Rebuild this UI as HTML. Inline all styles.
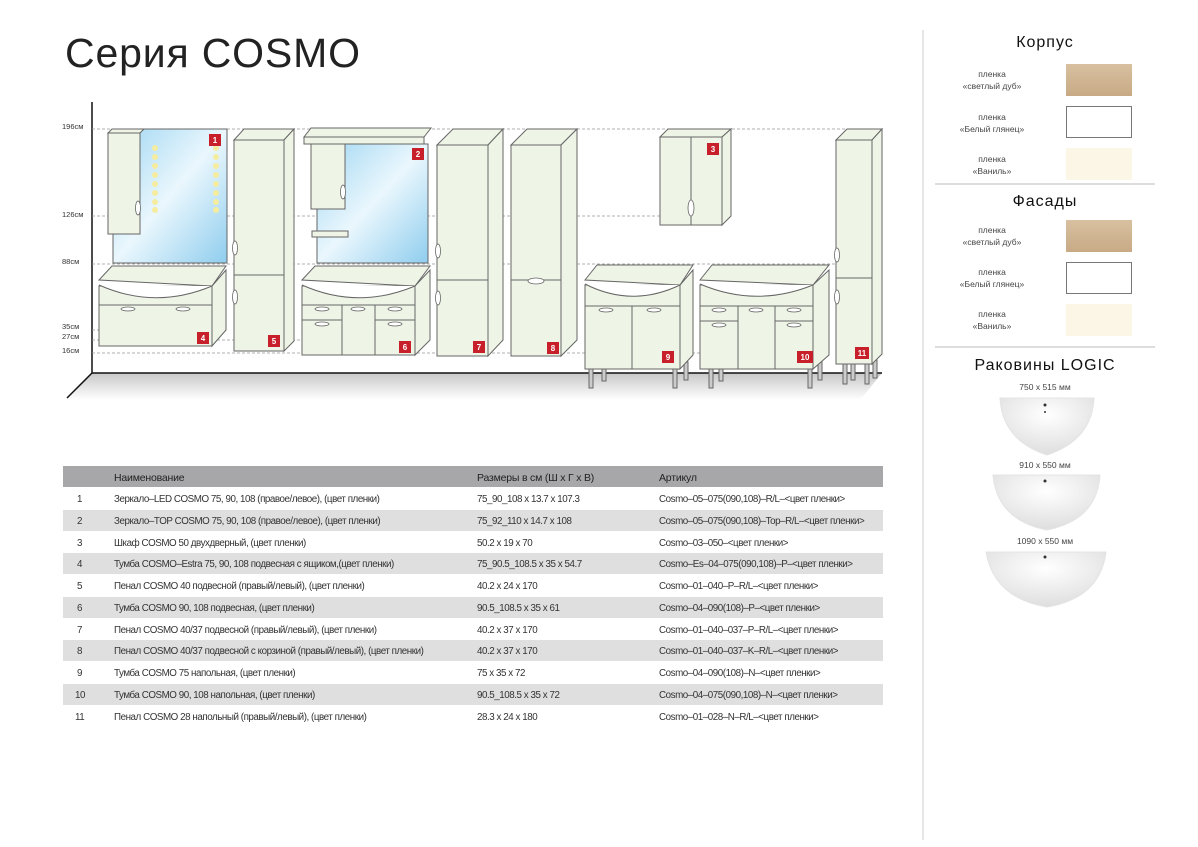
<!DOCTYPE html>
<html><head><meta charset="utf-8"><style>
body{margin:0;background:#fff;}
svg{display:block;font-family:"Liberation Sans","Noto Sans CJK SC",sans-serif;}
</style></head><body>
<svg width="1198" height="847" viewBox="0 0 1198 847" xmlns="http://www.w3.org/2000/svg">
<defs>
<linearGradient id="mir" x1="0" y1="0" x2="1" y2="1"><stop offset="0" stop-color="#9fd6f2"/><stop offset="0.5" stop-color="#eaf7fd"/><stop offset="1" stop-color="#8fcdee"/></linearGradient>
<linearGradient id="floor" x1="0" y1="0" x2="0" y2="1"><stop offset="0" stop-color="#c8c8c8"/><stop offset="1" stop-color="#fff"/></linearGradient>
<linearGradient id="oak" x1="0" y1="0" x2="0" y2="1"><stop offset="0" stop-color="#d8c0a0"/><stop offset="1" stop-color="#c8aa85"/></linearGradient>
<radialGradient id="sink" cx="0.5" cy="0.3" r="0.7"><stop offset="0" stop-color="#fff"/><stop offset="1" stop-color="#dedede"/></radialGradient>
</defs>
<rect width="1198" height="847" fill="#fff"/>
<line x1="923" y1="30" x2="923" y2="840" stroke="#ccc"/>
<text x="65" y="67" font-size="41" fill="#222" textLength="295">Серия COSMO</text>

<polygon points="92,373 882,373 860,400 67,400" fill="url(#floor)"/>
<line x1="92" y1="102" x2="92" y2="373" stroke="#111" stroke-width="1.5"/>
<line x1="92" y1="373" x2="882" y2="373" stroke="#111" stroke-width="1.5"/>
<line x1="92" y1="373" x2="67" y2="398" stroke="#111" stroke-width="1.5"/>
<g stroke="#999" stroke-dasharray="3,2" stroke-width="0.8">
<line x1="92" y1="129" x2="882" y2="129"/><line x1="92" y1="216" x2="660" y2="216"/>
<line x1="92" y1="264" x2="836" y2="264"/><line x1="92" y1="330" x2="110" y2="330"/>
<line x1="92" y1="340" x2="302" y2="340"/><line x1="92" y1="353" x2="700" y2="353"/>
</g>
<g font-size="7.5" fill="#333">
<text x="62" y="129">196см</text><text x="62" y="217">126см</text><text x="62" y="264">88см</text>
<text x="62" y="329">35см</text><text x="62" y="339">27см</text><text x="62" y="353">16см</text>
</g>

<g stroke="#666" stroke-width="1" fill="#eef5e6">
<rect x="113" y="129" width="114" height="134" fill="url(#mir)"/>
<rect x="108" y="133" width="32" height="101"/><polygon points="108,133 112,129 144,129 140,133"/>
<polygon points="99,280 112,266 226,266 212,286"/>
<rect x="99" y="286" width="113" height="60"/><polygon points="212,286 226,270 226,330 212,346"/>
<path d="M99,285 Q155,310 212,286" fill="#fff"/>
<line x1="99" y1="305" x2="212" y2="305"/>
<rect x="234" y="140" width="50" height="211"/><polygon points="234,140 244,129 294,129 284,140"/><polygon points="284,140 294,129 294,341 284,351"/>
<line x1="234" y1="275" x2="284" y2="275"/>
<rect x="317" y="144" width="111" height="119" fill="url(#mir)"/>
<polygon points="304,137 311,128 431,128 424,137"/><rect x="304" y="137" width="120" height="7"/>
<rect x="311" y="144" width="34" height="65"/><rect x="312" y="231" width="36" height="6"/>
<polygon points="302,280 315,266 430,266 415,286"/>
<rect x="302" y="286" width="113" height="69"/><polygon points="415,286 430,270 430,340 415,355"/>
<path d="M302,285 Q358,310 415,286" fill="#fff"/>
<line x1="302" y1="305" x2="415" y2="305"/><line x1="342" y1="305" x2="342" y2="355"/><line x1="375" y1="305" x2="375" y2="355"/>
<line x1="302" y1="320" x2="342" y2="320"/><line x1="375" y1="320" x2="415" y2="320"/>
<rect x="437" y="145" width="51" height="211"/><polygon points="437,145 453,129 503,129 488,145"/><polygon points="488,145 503,129 503,340 488,356"/>
<line x1="437" y1="280" x2="488" y2="280"/>
<rect x="511" y="145" width="50" height="211"/><polygon points="511,145 527,129 577,129 561,145"/><polygon points="561,145 577,129 577,340 561,356"/>
<line x1="511" y1="280" x2="561" y2="280"/>
<rect x="660" y="137" width="62" height="88"/><polygon points="660,137 668,129 731,129 722,137"/><polygon points="722,137 731,129 731,216 722,225"/>
<line x1="691" y1="137" x2="691" y2="225"/>
<rect x="589" y="369" width="4" height="19" fill="#ccc"/><rect x="673" y="369" width="4" height="19" fill="#ccc"/><rect x="602" y="369" width="4" height="12" fill="#ccc"/><rect x="684" y="362" width="4" height="18" fill="#ccc"/>
<polygon points="585,280 597,265 693,265 680,285"/>
<rect x="585" y="285" width="95" height="84"/><polygon points="680,285 693,270 693,355 680,369"/>
<path d="M585,284 Q632,308 680,285" fill="#fff"/>
<line x1="585" y1="306" x2="680" y2="306"/><line x1="632" y1="306" x2="632" y2="369"/>
<rect x="709" y="369" width="4" height="19" fill="#ccc"/><rect x="808" y="369" width="4" height="19" fill="#ccc"/><rect x="719" y="369" width="4" height="12" fill="#ccc"/><rect x="818" y="362" width="4" height="18" fill="#ccc"/>
<polygon points="700,280 712,265 829,265 813,285"/>
<rect x="700" y="285" width="113" height="84"/><polygon points="813,285 829,270 829,355 813,369"/>
<path d="M700,284 Q756,308 813,285" fill="#fff"/>
<line x1="700" y1="306" x2="813" y2="306"/><line x1="738" y1="306" x2="738" y2="369"/><line x1="775" y1="306" x2="775" y2="369"/>
<line x1="700" y1="321" x2="738" y2="321"/><line x1="775" y1="321" x2="813" y2="321"/>
<rect x="843" y="364" width="4" height="20" fill="#ccc"/><rect x="865" y="364" width="4" height="20" fill="#ccc"/><rect x="851" y="364" width="4" height="16" fill="#ccc"/><rect x="873" y="360" width="4" height="18" fill="#ccc"/>
<rect x="836" y="140" width="36" height="224"/><polygon points="836,140 847,129 882,129 872,140"/><polygon points="872,140 882,129 882,354 872,364"/>
<line x1="836" y1="278" x2="872" y2="278"/>
</g>
<!-- handles -->
<g fill="#fff" stroke="#666" stroke-width="0.8">
<ellipse cx="138" cy="208" rx="2.5" ry="7"/><ellipse cx="235" cy="248" rx="2.5" ry="7"/><ellipse cx="235" cy="297" rx="2.5" ry="7"/>
<ellipse cx="343" cy="192" rx="2.5" ry="7"/><ellipse cx="438" cy="251" rx="2.5" ry="7"/><ellipse cx="438" cy="298" rx="2.5" ry="7"/>
<ellipse cx="536" cy="281" rx="8" ry="3"/><ellipse cx="691" cy="208" rx="3" ry="8"/>
<ellipse cx="837" cy="255" rx="2.5" ry="7"/><ellipse cx="837" cy="297" rx="2.5" ry="7"/>
<ellipse cx="128" cy="309" rx="7" ry="2"/><ellipse cx="183" cy="309" rx="7" ry="2"/>
<ellipse cx="322" cy="309" rx="7" ry="2"/><ellipse cx="358" cy="309" rx="7" ry="2"/><ellipse cx="395" cy="309" rx="7" ry="2"/>
<ellipse cx="322" cy="324" rx="7" ry="2"/><ellipse cx="395" cy="324" rx="7" ry="2"/>
<ellipse cx="606" cy="310" rx="7" ry="2"/><ellipse cx="654" cy="310" rx="7" ry="2"/>
<ellipse cx="719" cy="310" rx="7" ry="2"/><ellipse cx="756" cy="310" rx="7" ry="2"/><ellipse cx="794" cy="310" rx="7" ry="2"/>
<ellipse cx="719" cy="325" rx="7" ry="2"/><ellipse cx="794" cy="325" rx="7" ry="2"/>
</g>
<g fill="#f5eca0">
<circle cx="155" cy="148" r="3"/><circle cx="155" cy="157" r="3"/><circle cx="155" cy="166" r="3"/><circle cx="155" cy="175" r="3"/><circle cx="155" cy="184" r="3"/><circle cx="155" cy="193" r="3"/><circle cx="155" cy="202" r="3"/><circle cx="155" cy="210" r="3"/>
<circle cx="216" cy="148" r="3"/><circle cx="216" cy="157" r="3"/><circle cx="216" cy="166" r="3"/><circle cx="216" cy="175" r="3"/><circle cx="216" cy="184" r="3"/><circle cx="216" cy="193" r="3"/><circle cx="216" cy="202" r="3"/><circle cx="216" cy="210" r="3"/>
</g>
<g fill="#c8202a">
<rect x="209" y="134" width="12" height="12"/><rect x="412" y="148" width="12" height="12"/><rect x="707" y="143" width="12" height="12"/>
<rect x="197" y="332" width="12" height="12"/><rect x="268" y="335" width="12" height="12"/><rect x="399" y="341" width="12" height="12"/>
<rect x="473" y="341" width="12" height="12"/><rect x="547" y="342" width="12" height="12"/><rect x="662" y="351" width="12" height="12"/>
<rect x="797" y="351" width="16" height="12"/><rect x="855" y="347" width="14" height="12"/>
</g>
<g fill="#fff" font-size="8" font-weight="bold" text-anchor="middle">
<text x="215" y="143">1</text><text x="418" y="157">2</text><text x="713" y="152">3</text>
<text x="203" y="341">4</text><text x="274" y="344">5</text><text x="405" y="350">6</text>
<text x="479" y="350">7</text><text x="553" y="351">8</text><text x="668" y="360">9</text>
<text x="805" y="360">10</text><text x="862" y="356">11</text>
</g>

<rect x="63" y="466" width="820" height="21" fill="#a7a7a9"/>
<g fill="#dfdfe0">
<rect x="63" y="510" width="820" height="21"/><rect x="63" y="553" width="820" height="21"/>
<rect x="63" y="597" width="820" height="21"/><rect x="63" y="640" width="820" height="21"/><rect x="63" y="684" width="820" height="21"/>
</g>
<g font-size="10.5" fill="#222" letter-spacing="-0.2">
<text x="114" y="481">Наименование</text><text x="477" y="481">Размеры в см (Ш х Г х В)</text><text x="659" y="481">Артикул</text>
</g>
<g font-size="9.8" fill="#333" letter-spacing="-0.45">
<text x="77" y="502">1</text><text x="77" y="524">2</text><text x="77" y="546">3</text><text x="77" y="567">4</text><text x="77" y="589">5</text><text x="77" y="611">6</text><text x="77" y="633">7</text><text x="77" y="654">8</text><text x="77" y="676">9</text><text x="75" y="698">10</text><text x="75" y="720">11</text>
<text x="114" y="502">Зеркало–LED COSMO 75, 90, 108 (правое/левое), (цвет пленки)</text>
<text x="114" y="524">Зеркало–TOP COSMO 75, 90, 108 (правое/левое), (цвет пленки)</text>
<text x="114" y="546">Шкаф COSMO 50 двухдверный, (цвет пленки)</text>
<text x="114" y="567">Тумба COSMO–Estra 75, 90, 108 подвесная с ящиком,(цвет пленки)</text>
<text x="114" y="589">Пенал COSMO 40 подвесной (правый/левый), (цвет пленки)</text>
<text x="114" y="611">Тумба COSMO 90, 108 подвесная, (цвет пленки)</text>
<text x="114" y="633">Пенал COSMO 40/37 подвесной (правый/левый), (цвет пленки)</text>
<text x="114" y="654">Пенал COSMO 40/37 подвесной с корзиной (правый/левый), (цвет пленки)</text>
<text x="114" y="676">Тумба COSMO 75 напольная, (цвет пленки)</text>
<text x="114" y="698">Тумба COSMO 90, 108 напольная, (цвет пленки)</text>
<text x="114" y="720">Пенал COSMO 28 напольный (правый/левый), (цвет пленки)</text>
<text x="477" y="502">75_90_108 x 13.7 x 107.3</text>
<text x="477" y="524">75_92_110 x 14.7 x 108</text>
<text x="477" y="546">50.2 x 19 x 70</text>
<text x="477" y="567">75_90.5_108.5 x 35 x 54.7</text>
<text x="477" y="589">40.2 x 24 x 170</text>
<text x="477" y="611">90.5_108.5 x 35 x 61</text>
<text x="477" y="633">40.2 x 37 x 170</text>
<text x="477" y="654">40.2 x 37 x 170</text>
<text x="477" y="676">75 x 35 x 72</text>
<text x="477" y="698">90.5_108.5 x 35 x 72</text>
<text x="477" y="720">28.3 x 24 x 180</text>
<text x="659" y="502">Cosmo–05–075(090,108)–R/L–&lt;цвет пленки&gt;</text>
<text x="659" y="524">Cosmo–05–075(090,108)–Top–R/L–&lt;цвет пленки&gt;</text>
<text x="659" y="546">Cosmo–03–050–&lt;цвет пленки&gt;</text>
<text x="659" y="567">Cosmo–Es–04–075(090,108)–P–&lt;цвет пленки&gt;</text>
<text x="659" y="589">Cosmo–01–040–P–R/L–&lt;цвет пленки&gt;</text>
<text x="659" y="611">Cosmo–04–090(108)–P–&lt;цвет пленки&gt;</text>
<text x="659" y="633">Cosmo–01–040–037–P–R/L–&lt;цвет пленки&gt;</text>
<text x="659" y="654">Cosmo–01–040–037–K–R/L–&lt;цвет пленки&gt;</text>
<text x="659" y="676">Cosmo–04–090(108)–N–&lt;цвет пленки&gt;</text>
<text x="659" y="698">Cosmo–04–075(090,108)–N–&lt;цвет пленки&gt;</text>
<text x="659" y="720">Cosmo–01–028–N–R/L–&lt;цвет пленки&gt;</text>
</g>

<g font-size="16" fill="#111" text-anchor="middle" letter-spacing="1">
<text x="1045" y="47">Корпус</text><text x="1045" y="206">Фасады</text><text x="1045" y="370">Раковины LOGIC</text>
</g>
<g stroke="#bbb" stroke-width="1"><line x1="935" y1="184" x2="1155" y2="184"/><line x1="935" y1="347" x2="1155" y2="347"/></g>
<g font-size="8.5" fill="#444" text-anchor="middle">
<text x="992" y="77">пленка</text><text x="992" y="89">«светлый дуб»</text>
<text x="992" y="120">пленка</text><text x="992" y="132">«Белый глянец»</text>
<text x="992" y="162">пленка</text><text x="992" y="174">«Ваниль»</text>
<text x="992" y="233">пленка</text><text x="992" y="245">«светлый дуб»</text>
<text x="992" y="275">пленка</text><text x="992" y="287">«Белый глянец»</text>
<text x="992" y="317">пленка</text><text x="992" y="329">«Ваниль»</text>
<text x="1045" y="390">750 x 515 мм</text><text x="1045" y="468">910 x 550 мм</text><text x="1045" y="544">1090 x 550 мм</text>
</g>
<rect x="1066" y="64" width="66" height="32" fill="url(#oak)"/>
<rect x="1066.5" y="106.5" width="65" height="31" fill="#fff" stroke="#777"/>
<rect x="1066" y="148" width="66" height="32" fill="#fcf6e6"/>
<rect x="1066" y="220" width="66" height="32" fill="url(#oak)"/>
<rect x="1066.5" y="262.5" width="65" height="31" fill="#fff" stroke="#777"/>
<rect x="1066" y="304" width="66" height="32" fill="#fcf6e6"/>
<g fill="url(#sink)" stroke="#e4e4e4">
<path d="M1000,398 L1094,398 Q1092,440 1047,455 Q1002,440 1000,398Z"/>
<path d="M993,475 L1100,475 Q1097,520 1047,530 Q997,520 993,475Z"/>
<path d="M986,552 L1106,552 Q1100,598 1047,607 Q994,598 986,552Z"/>
</g>
<g fill="#333"><circle cx="1045" cy="405" r="1.5"/><circle cx="1045" cy="412" r="1"/><circle cx="1045" cy="481" r="1.5"/><circle cx="1045" cy="557" r="1.5"/></g>
</svg>
</body></html>
